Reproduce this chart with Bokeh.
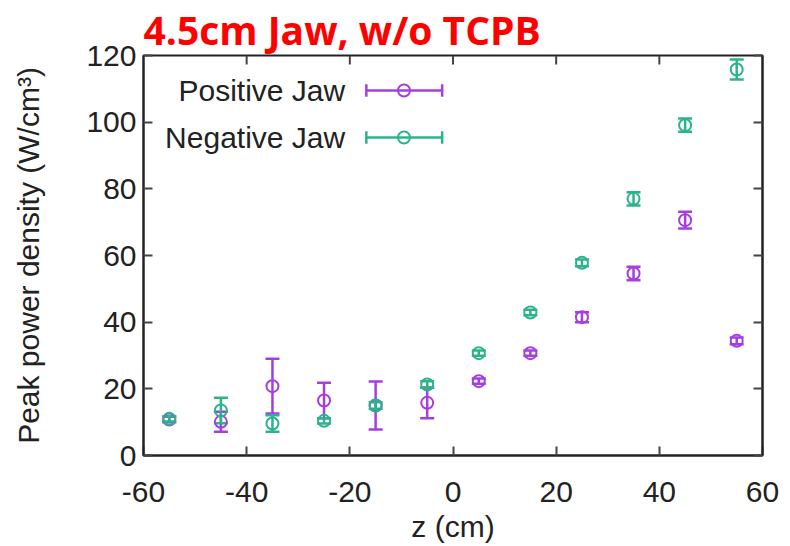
from bokeh.plotting import figure
from bokeh.models import Whisker, TeeHead, ColumnDataSource, Label, LinearAxis, FixedTicker, PrintfTickFormatter
from bokeh.embed import file_html
from bokeh.resources import INLINE

# data
z = [-55, -45, -35, -25, -15, -5, 5, 15, 25, 35, 45, 55]
pos = [10.8, 10.1, 20.8, 16.5, 15.0, 15.8, 22.3, 30.7, 41.5, 54.6, 70.6, 34.4]
pos_err = [0.8, 3.0, 8.2, 5.3, 7.2, 4.6, 0.8, 0.8, 1.5, 2.0, 2.5, 1.0]
neg = [11.0, 13.5, 9.6, 10.4, 15.0, 21.3, 30.7, 42.9, 57.8, 77.0, 99.1, 115.8]
neg_err = [0.8, 3.8, 2.5, 0.8, 1.0, 1.0, 0.8, 0.8, 1.0, 2.0, 2.0, 3.0]
x_ticks = [-60, -40, -20, 0, 20, 40, 60]
y_ticks = [0, 20, 40, 60, 80, 100, 120]
series_names = ["Positive Jaw", "Negative Jaw"]
title_text = "4.5cm Jaw, w/o TCPB"

PURPLE = "#a53ee0"
GREEN = "#2bb48c"
FONT = "Liberation Sans"
FS = "30px"
Y_MAX = 120

p = figure(width=790, height=546, x_range=(-60, 60), y_range=(0, Y_MAX),
           output_backend="svg", toolbar_location=None,
           min_border_left=143, min_border_right=28, min_border_top=53, min_border_bottom=91)
p.grid.visible = False
p.outline_line_color = "#222222"
p.outline_line_width = 2
p.background_fill_color = "white"
p.border_fill_color = "white"

p.title.text = title_text
p.title.text_font = "Open Sans"
p.title.text_font_size = "39px"
p.title.text_font_style = "bold"
p.title.text_color = "#ff0000"
p.title.align = "left"
p.title.standoff = 0

for ax in (p.xaxis[0], p.yaxis[0]):
    ax.major_tick_in = 9
    ax.major_tick_out = 0
    ax.minor_tick_line_color = None
    ax.axis_line_color = "#222222"
    ax.axis_line_width = 2
    ax.major_tick_line_width = 2
    ax.major_tick_line_color = "#444444"
    ax.major_label_text_font = FONT
    ax.major_label_text_font_size = FS
    ax.major_label_text_color = "#222222"
    ax.axis_label_text_font = FONT
    ax.axis_label_text_font_size = FS
    ax.axis_label_text_font_style = "normal"
    ax.axis_label_text_color = "#222222"
    ax.formatter = PrintfTickFormatter(format="%d")

p.xaxis[0].ticker = FixedTicker(ticks=x_ticks)
p.yaxis[0].ticker = FixedTicker(ticks=y_ticks)
p.xaxis[0].major_label_standoff = 26
p.yaxis[0].major_label_standoff = 7
p.xaxis[0].axis_label = "z (cm)"
p.yaxis[0].axis_label = "Peak power density (W/cm³)"
p.xaxis[0].axis_label_standoff = 5
p.yaxis[0].axis_label_standoff = 38

# mirrored ticks on the right
right = LinearAxis(ticker=FixedTicker(ticks=y_ticks), major_label_text_font_size="0px",
                   major_tick_in=9, major_tick_out=0, minor_tick_line_color=None,
                   axis_line_color="#222222", axis_line_width=2, major_tick_line_width=2,
                   major_tick_line_color="#444444", major_label_standoff=0)
p.add_layout(right, "right")
# mirrored ticks on the top (inward, ~9 px long)
tick_len = 9 * Y_MAX / 402.0
p.segment(x0=x_ticks[1:-1], y0=[Y_MAX] * 5, x1=x_ticks[1:-1], y1=[Y_MAX - tick_len] * 5,
          line_color="#444444", line_width=2)

def draw(yv, err, color):
    src = ColumnDataSource(dict(x=z, y=yv,
                                lo=[a - b for a, b in zip(yv, err)],
                                hi=[a + b for a, b in zip(yv, err)]))
    w = Whisker(base="x", lower="lo", upper="hi", source=src, dimension="height",
                line_color=color, line_width=2.5,
                upper_head=TeeHead(size=14, line_color=color, line_width=2.5),
                lower_head=TeeHead(size=14, line_color=color, line_width=2.5))
    p.add_layout(w)
    p.scatter("x", "y", source=src, marker="circle", size=12, fill_color=None,
              line_color=color, line_width=2)

draw(pos, pos_err, PURPLE)
draw(neg, neg_err, GREEN)

# manual gnuplot-style legend (label left, sample right)
leg_y = [109.5, 95.4]
for name, color, ly in zip(series_names, [PURPLE, GREEN], leg_y):
    p.add_layout(Label(x=-20.9, y=ly, text=name, text_align="right", text_baseline="middle",
                       text_font=FONT, text_font_size=FS, text_color="#222222"))
    p.segment(x0=[-16.8], y0=[ly], x1=[-2.1], y1=[ly], line_color=color, line_width=2.5)
    p.segment(x0=[-16.8, -2.1], y0=[ly - 1.9, ly - 1.9], x1=[-16.8, -2.1], y1=[ly + 1.9, ly + 1.9],
              line_color=color, line_width=2.5)
    p.scatter(x=[-9.5], y=[ly], marker="circle", size=12, fill_color=None,
              line_color=color, line_width=2)

open("out.html", "w").write(file_html(p, INLINE))
